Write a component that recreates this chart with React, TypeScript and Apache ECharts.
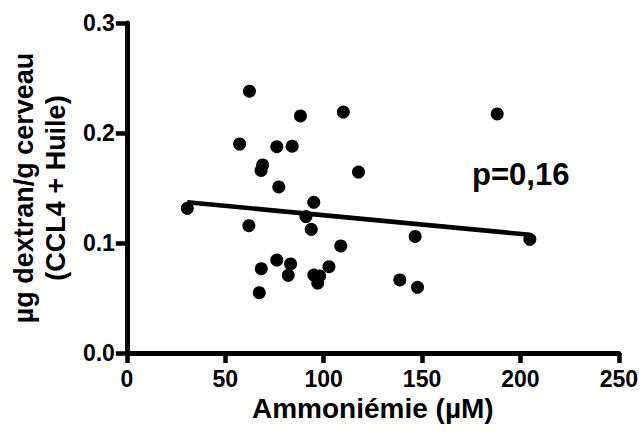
import React, { useEffect, useRef } from "react";
import * as echarts from "echarts";

const ammoniemie: number[] = [
  30.7, 57.3, 62.3, 62.0, 67.3, 68.3, 68.2, 69.0, 76.2, 77.2, 76.2, 82.0, 83.2, 84.0, 88.2,
  91.0, 93.7, 95.0, 95.0, 98.0, 97.0, 102.7, 108.7, 110.0, 117.7, 138.7, 146.5, 147.7, 188.2, 204.8,
];
const dextran: number[] = [
  0.1315, 0.19, 0.238, 0.1157, 0.0548, 0.0767, 0.166, 0.171, 0.1876, 0.151, 0.0845, 0.0706, 0.081, 0.188, 0.2155,
  0.124, 0.1124, 0.137, 0.0709, 0.07, 0.0636, 0.0785, 0.0973, 0.219, 0.1645, 0.0664, 0.106, 0.0597, 0.2173, 0.1033,
];
const regressionX: number[] = [30.7, 204.8];
const regressionY: number[] = [0.137, 0.1075];
const xTicks = { min: 0, max: 250, interval: 50 };
const yTicks = { min: 0, max: 0.3, interval: 0.1 };
const pLabel = "p=0,16";
const xTitle = "Ammoniémie (µM)";
const yTitle = "µg dextran/g cerveau\n(CCL4 + Huile)";

const FONT = "'Liberation Sans', Arial, Helvetica, sans-serif";

export default function App() {
  const ref = useRef<HTMLDivElement>(null);
  useEffect(() => {
    if (!ref.current) return;
    const chart = echarts.init(ref.current, undefined, { renderer: "svg" });
    chart.setOption({
      animation: false,
      backgroundColor: "#fff",
      grid: { left: 122, right: 19, top: 23, bottom: 81, containLabel: false },
      xAxis: {
        type: "value",
        min: xTicks.min,
        max: xTicks.max,
        interval: xTicks.interval,
        axisLine: { show: true, lineStyle: { color: "#000", width: 5 } },
        axisTick: { show: true, length: 10, lineStyle: { color: "#000", width: 4.5 } },
        splitLine: { show: true, lineStyle: { color: "rgba(0,0,0,0)" } },
        axisLabel: { color: "#000", fontFamily: FONT, fontWeight: "bold", fontSize: 23, margin: 14 },
        name: xTitle,
        nameLocation: "middle",
        nameGap: 40,
        nameTextStyle: { color: "#000", fontFamily: FONT, fontWeight: "bold", fontSize: 28 },
      },
      yAxis: {
        type: "value",
        min: yTicks.min,
        max: yTicks.max,
        interval: yTicks.interval,
        axisLine: { show: true, lineStyle: { color: "#000", width: 5 } },
        axisTick: { show: true, length: 11, lineStyle: { color: "#000", width: 4.5 } },
        splitLine: { show: true, lineStyle: { color: "rgba(0,0,0,0)" } },
        axisLabel: {
          color: "#000",
          fontFamily: FONT,
          fontWeight: "bold",
          fontSize: 23,
          margin: 12,
          formatter: (v: number) => v.toFixed(1),
        },
        name: yTitle,
        nameLocation: "middle",
        nameRotate: 90,
        nameGap: 46,
        nameTextStyle: { color: "#000", fontFamily: FONT, fontWeight: "bold", fontSize: 27, lineHeight: 32 },
      },
      series: [
        {
          type: "scatter",
          data: ammoniemie.map((x, i) => [x, dextran[i]]),
          symbol: "circle",
          symbolSize: 13,
          itemStyle: { color: "#000", opacity: 1 },
          z: 3,
        },
        {
          type: "line",
          data: regressionX.map((x, i) => [x, regressionY[i]]),
          showSymbol: false,
          symbol: "none",
          lineStyle: { color: "#000", width: 4.5 },
          z: 2,
        },
      ],
      graphic: [
        {
          type: "text",
          x: 472,
          y: 174,
          style: {
            text: pLabel,
            fill: "#000",
            font: `bold 31px ${FONT}`,
            verticalAlign: "middle",
          },
        },
      ],
    });
    return () => chart.dispose();
  }, []);
  return (
    <div
      ref={ref}
      style={{ position: "fixed", left: 0, top: 0, width: 641, height: 434, background: "#fff" }}
    />
  );
}
